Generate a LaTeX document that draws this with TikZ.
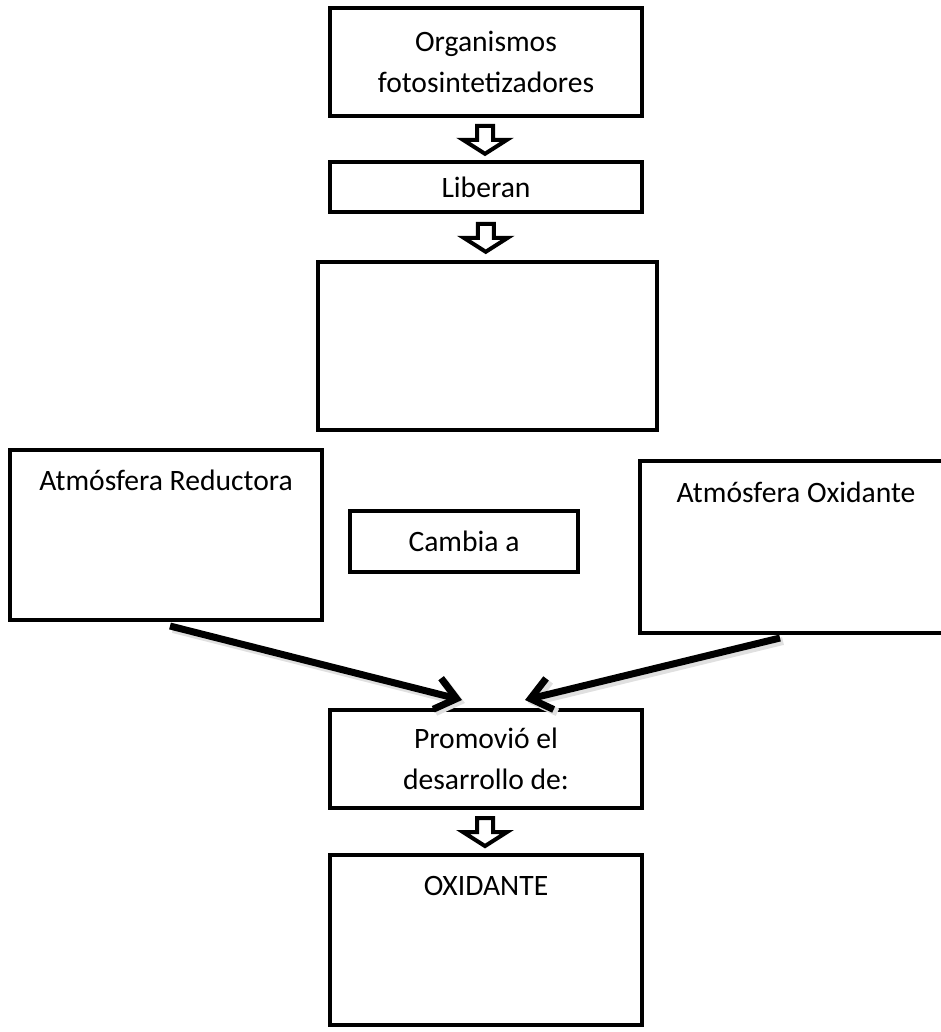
\documentclass[tikz,border=0pt]{standalone}
\usepackage{fontspec}
\setmainfont{Carlito}
\usetikzlibrary{shapes.arrows, arrows.meta, calc}

\tikzset{
  caja/.style={draw, line width=2pt, rectangle, inner sep=0pt},
  texto/.style={font=\fontsize{14.8}{20.5}\selectfont, align=center, inner sep=0pt},
  bloque/.style={draw, line width=2pt, fill=white, single arrow, rotate=-90,
    inner xsep=0pt, inner ysep=3pt, minimum height=14pt,
    single arrow head extend=7pt, single arrow tip angle=115},
  flecha/.style={line width=3.5pt, -{Straight Barb[length=10pt, width=16pt]},
    preaction={draw=black!12, line width=4pt, transform canvas={shift={(1.5pt,-1.5pt)}}}}
}

\begin{document}
\begin{tikzpicture}[x=0.5pt, y=-0.5pt]
  \useasboundingbox (0,0) rectangle (941,1032);
  \clip (0,0) rectangle (941,1032);

  % Cajas
  \node[caja, minimum width=156pt, minimum height=54pt] (org) at (486,62) {};
  \node[caja, minimum width=156pt, minimum height=25pt] (liber) at (486,187.5) {};
  \node[caja, minimum width=169.5pt, minimum height=84pt] (vacio) at (487.5,346) {};
  \node[caja, minimum width=156pt, minimum height=85pt] (reduc) at (166,535) {};
  \node[caja, minimum width=114pt, minimum height=30.5pt] (cambia) at (464,541.5) {};
  \node[caja, minimum width=153pt, minimum height=86pt] (oxid) at (793,547) {};
  \node[caja, minimum width=156pt, minimum height=49pt] (promo) at (486,759) {};
  \node[caja, minimum width=156pt, minimum height=85pt] (final) at (486,940) {};

  % Textos
  \node[texto] (torg) at (org) {Organismos\\fotosintetizadores};
  \node[texto] (tliber) at (liber) {Liberan};
  \node[texto, anchor=center] (treduc) at ($(reduc.north)+(0,32)$) {Atmósfera Reductora};
  \node[texto] (tcambia) at (cambia) {Cambia a};
  \node[texto, anchor=center] (toxid) at ($(oxid.north)+(3,33)$) {Atmósfera Oxidante};
  \node[texto] (tpromo) at (promo) {Promovió el\\desarrollo de:};
  \node[texto, anchor=center] (tfinal) at ($(final.north)+(0,33)$) {OXIDANTE};

  % Flechas de bloque
  \node[bloque] (f1) at ($(org.south)!0.5!(liber.north)+(-1,-2)$) {};
  \node[bloque] (f2) at ($(liber.south)!0.5!(vacio.north)+(-1,-2)$) {};
  \node[bloque] (f3) at ($(promo.south)!0.5!(final.north)+(-1,-2)$) {};

  % Flechas
  \draw[flecha] ($(reduc.south)+(4,4)$) -- ($(promo.north)+(-24,-8)$);
  \draw[flecha] ($(oxid.south)+(-13,3)$) -- ($(promo.north)+(39,-8)$);
\end{tikzpicture}
\end{document}
